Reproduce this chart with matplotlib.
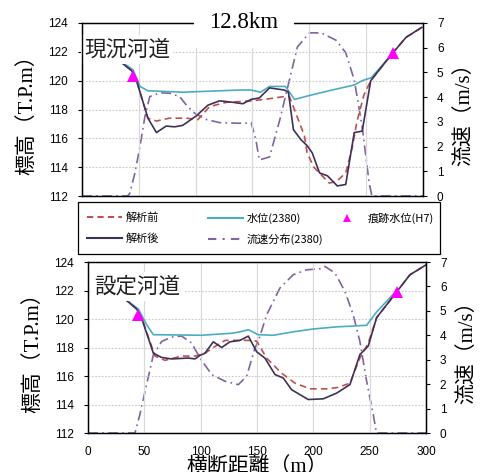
import numpy as np
import matplotlib
matplotlib.use("Agg")
import matplotlib.pyplot as plt
from matplotlib.patches import Rectangle

plt.rcParams['font.family'] = ['Liberation Sans', 'Noto Sans CJK JP', 'DejaVu Sans']

# 現況河道 (12.8km)
gen_x = [30.7, 43.6, 48, 58, 65.5, 74, 81.5, 88.6, 100.6, 110.8, 121, 132.7, 141.5,
         148.8, 156, 165, 178, 181.6, 186, 192.7, 198, 202.5, 209, 216, 224.6, 232,
         239.5, 246.5, 254, 270, 285, 299]
gen_after = [121.5, 120.7, 120.0, 117.4, 116.4, 116.85, 116.8, 116.9, 117.56, 118.3,
             118.6, 118.5, 118.4, 118.7, 118.8, 119.5, 119.35, 119.2, 116.6, 115.9, 115.5,
             115.0, 113.6, 113.4, 112.7, 112.8, 116.4, 116.5, 120.0, 121.6, 123.0, 123.7]
gen_bx = [30.7, 43.6, 48, 58, 65.5, 77, 91.8, 102, 112.3, 127, 150, 165, 178, 182.5,
          189.5, 195.6, 198, 204, 210, 217.5, 223.7, 232, 237.7, 242, 248, 254, 270, 285, 299]
gen_before = [121.5, 120.7, 120.0, 117.4, 117.2, 117.4, 117.4, 117.3, 118.2, 118.5,
              118.6, 118.75, 118.9, 118.9, 117.45, 116.2, 115.0, 114.0, 113.5, 112.9, 113.0,
              113.6, 115.35, 117.2, 119.0, 120.0, 121.6, 123.0, 123.7]
gen_wx = [31, 33, 45, 51, 58, 89, 138.6, 149, 157, 165, 179, 187, 201.5, 220, 239.5,
          246.5, 254.4, 273]
gen_wl = [121.6, 121.4, 120.75, 119.6, 119.3, 119.2, 119.35, 119.35, 119.2, 119.6, 119.6,
          118.7, 119.0, 119.35, 119.7, 120.0, 120.2, 121.85]
gen_vx = [0, 40, 42, 46.5, 51, 55.3, 59.6, 68.4, 77, 86, 91.8, 99, 109, 121, 141.5, 148.8,
          153, 156, 165, 174, 182.5, 189.5, 200, 210.5, 223.6, 232, 239.5, 246.5, 252.6,
          255, 300]
gen_v = [0, 0, 0.1, 0.92, 2.0, 3.2, 4.02, 4.18, 4.16, 4.02, 3.68, 3.35, 3.1, 2.97, 2.94,
         2.97, 2.27, 1.46, 1.58, 3.08, 4.7, 6.03, 6.6, 6.6, 6.3, 5.8, 4.7, 2.8, 0.53, 0, 0]

# 設定河道
set_x = [31.3, 43.2, 47.6, 58, 65.4, 74.2, 89, 95, 99.4, 103.8, 111.2, 118.6, 126,
         134.9, 142.3, 149.7, 157, 166, 173.3, 180.7, 195.5, 208.8, 220.7, 232.5, 241.3,
         248.7, 256.2, 271, 285.7, 300]
set_after = [121.5, 120.7, 120.07, 117.6, 117.3, 117.2, 117.26, 117.2, 117.45, 117.6,
             118.4, 118.0, 118.4, 118.5, 118.8, 117.7, 117.26, 116.1, 115.86, 115.04, 114.35,
             114.4, 114.8, 115.4, 117.5, 118.1, 120.1, 121.6, 123.1, 123.8]
set_bx = [31.3, 43.2, 47.6, 59.5, 68.3, 83, 95, 103.8, 114.2, 121.6, 142, 149.7, 158.5,
          171.8, 183.7, 197, 211.8, 222, 232.5, 241.3, 248.7, 256.2, 271, 285.7, 300]
set_before = [121.5, 120.7, 120.07, 117.4, 117.1, 117.4, 117.4, 117.6, 118.15, 118.5,
              118.5, 118.45, 117.26, 116.2, 115.5, 115.1, 115.1, 115.2, 115.5, 117.26, 118.3,
              120.1, 121.6, 123.1, 123.8]
set_wx = [31.3, 44.7, 52, 58, 100.9, 127.5, 134.9, 142.3, 151, 164.5, 182.2, 200,
          220.7, 234, 247.3, 256.2, 274]
set_wl = [121.5, 120.7, 119.6, 118.9, 118.86, 119.0, 119.1, 119.25, 118.9, 118.86,
          119.1, 119.3, 119.45, 119.5, 119.56, 120.5, 122.0]
set_vx = [0, 41.7, 46, 52, 58, 65.4, 74.2, 83, 92, 99.4, 109.8, 121.6, 133.4, 140.8, 148.2,
          151.1, 158.6, 170.4, 182.2, 194, 207.4, 210.3, 219.2, 228, 235.4, 241.3, 247.3,
          253.2, 256, 300]
set_v = [0, 0, 0.75, 1.98, 3.2, 3.75, 3.93, 3.97, 3.68, 3.07, 2.39, 2.12, 1.98, 2.32, 3.48,
         3.75, 4.84, 5.94, 6.48, 6.68, 6.73, 6.82, 6.55, 5.8, 4.84, 3.75, 2.12, 0.75, 0, 0]

# 痕跡水位(H7)
mark_x = [44.5, 274]
mark_y = [120.3, 121.9]

C_BEFORE = '#c0504d'
C_AFTER = '#3f3057'
C_WL = '#4bacc6'
C_V = '#8064a2'
C_MARK = '#ff00ff'
JP = ['Noto Sans CJK JP', 'DejaVu Sans']
SERIF = ['Liberation Serif', 'Noto Sans CJK JP']


def panel(fig, rect, name, name_x, name_y, bx, before, ax_x, after, wx, wl, vx, v, show_x):
    ax = fig.add_axes(rect)
    ax.set_xlim(0, 300)
    ax.set_ylim(112, 124)
    ax.set_yticks(np.arange(112, 125, 2))
    ax.set_xticks(np.arange(0, 301, 50))
    ax.grid(axis='x', color='#d9d9d9', lw=0.9, ls='-')
    for yv in np.arange(114, 124, 2):
        ax.axhline(yv, color='#c8c8c8', lw=0.8, ls=(0, (1.5, 1.5)), zorder=0.5)
    ax.set_axisbelow(True)

    ax.plot(bx, before, color=C_BEFORE, lw=1.2, ls=(0, (4, 2.5)), zorder=2)
    ax.plot(ax_x, after, color=C_AFTER, lw=1.2, zorder=2.1)
    ax.plot(wx, wl, color=C_WL, lw=1.2, zorder=2)
    ax.plot(mark_x, mark_y, ls='none', marker='^', ms=8, color=C_MARK,
            markeredgewidth=0, zorder=3, clip_on=False)

    ax.tick_params(axis='y', direction='out', length=3, width=0.8, pad=7, labelsize=8.5)
    ax.tick_params(axis='x', length=0, pad=9, labelsize=8.5, labelbottom=show_x)
    for s in ax.spines.values():
        s.set_linewidth(1.0)
    ax.set_ylabel('標高（T.P.m）', fontsize=15, family=SERIF, labelpad=8)

    ax2 = ax.twinx()
    ax2.set_ylim(0, 7)
    ax2.set_yticks(range(0, 8))
    ax2.plot(vx, v, color=C_V, lw=1.2, ls=(0, (6, 2.5, 1, 2.5)), clip_on=False)
    ax2.tick_params(axis='y', direction='out', length=3, width=0.8, pad=7, labelsize=8.5)
    ax2.set_ylabel('流速（m/s）', fontsize=15, family=SERIF, labelpad=8)

    ax.text(name_x, name_y, name, transform=ax.transAxes, fontsize=15.5, family=JP,
            color='#202020', va='center', ha='left', zorder=2.4,
            bbox=dict(facecolor='white', edgecolor='none', pad=2.5))
    ax.set_zorder(ax2.get_zorder() + 1)
    ax.patch.set_visible(False)
    return ax, ax2


def main():
    fig = plt.figure(figsize=(4.9, 4.72), dpi=100)

    top, top2 = panel(fig, [0.1673, 0.5847, 0.696, 0.3666], '現況河道', 0.006, 0.845,
                      gen_bx, gen_before, gen_x, gen_after, gen_wx, gen_wl,
                      gen_vx, gen_v, False)
    bot, bot2 = panel(fig, [0.1796, 0.0826, 0.6898, 0.3623], '設定河道', 0.018, 0.855,
                      set_bx, set_before, set_x, set_after, set_wx, set_wl,
                      set_vx, set_v, True)
    bot.set_xlabel('横断距離（m）', fontsize=15, family=SERIF, labelpad=0)

    fig.text(244 / 490, 1 - 22.5 / 472, '12.8km', fontsize=16.5, family=SERIF,
             ha='center', va='center', zorder=5,
             bbox=dict(facecolor='white', edgecolor='none', pad=11))

    # 凡例 (枠 + 項目ごとに配置)
    fig.patches.append(Rectangle((78 / 490, 1 - 254 / 472), 362 / 490, 52 / 472,
                                 transform=fig.transFigure, fill=False,
                                 ec='black', lw=0.9))
    h = [plt.Line2D([], [], color=C_BEFORE, lw=1.5, ls=(0, (3, 2))),
         plt.Line2D([], [], color=C_AFTER, lw=1.5),
         plt.Line2D([], [], color=C_WL, lw=1.5),
         plt.Line2D([], [], color=C_V, lw=1.5, ls=(0, (4, 3, 1, 3))),
         plt.Line2D([], [], ls='none', marker='^', ms=6, color=C_MARK, markeredgewidth=0)]
    lab = ['解析前', '解析後', '水位(2380)', '流速分布(2380)', '痕跡水位(H7)']
    pos = [(87, 218), (87, 239), (208, 218), (208, 239), (329, 218)]
    for hh, ll, (px, py) in zip(h, lab, pos):
        fig.legend([hh], [ll], loc='center left',
                   bbox_to_anchor=(px / 490, 1 - py / 472),
                   prop={'family': JP, 'size': 8}, frameon=False,
                   handlelength=3.15, handletextpad=0.35,
                   borderpad=0, borderaxespad=0)

    fig.savefig('out.png', dpi=100)


if __name__ == "__main__":
    main()
